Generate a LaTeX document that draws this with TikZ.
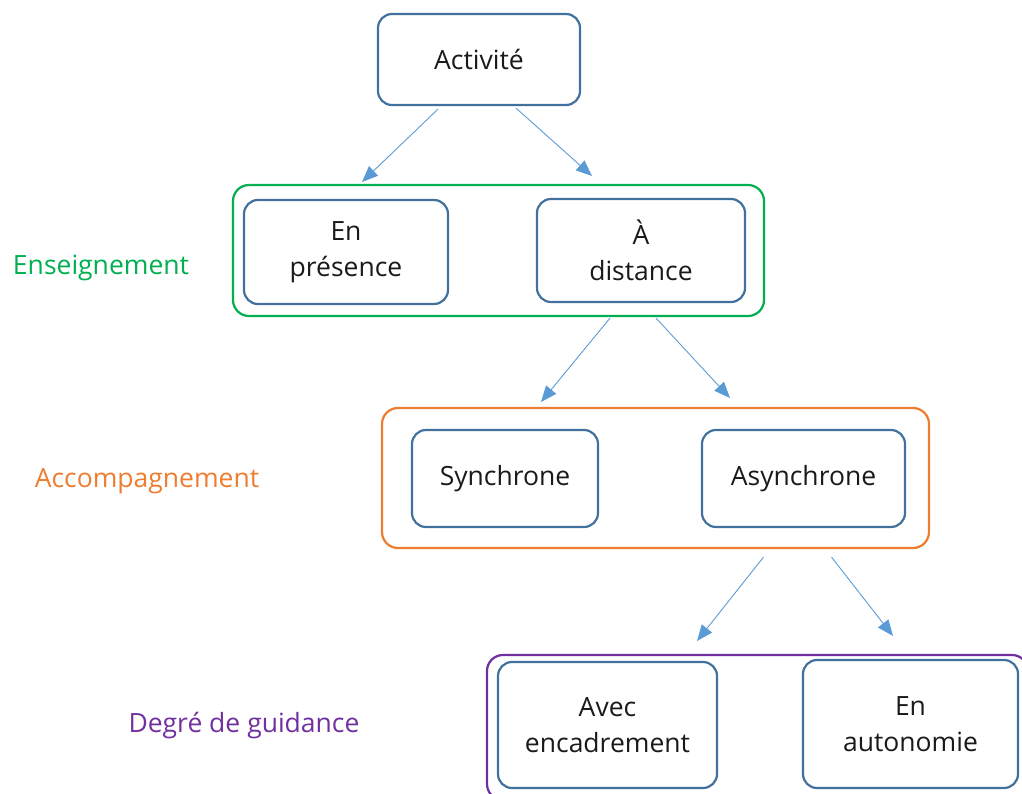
\documentclass[tikz,border=0pt]{standalone}
\usepackage{fontspec}
\setmainfont{Open Sans}
\definecolor{boxblue}{HTML}{41719C}
\definecolor{arrowblue}{HTML}{5B9BD5}
\definecolor{grpgreen}{HTML}{00B050}
\definecolor{grporange}{HTML}{ED7D31}
\definecolor{grppurple}{HTML}{7030A0}
\definecolor{txtgray}{HTML}{1A1A1A}
\usetikzlibrary{arrows.meta}
\begin{document}
\begin{tikzpicture}[x=1pt,y=-1pt,font=\fontsize{26.5}{36}\selectfont]
\tikzstyle{item}=[draw=boxblue,text=txtgray,line width=2.2pt,rounded corners=14pt,align=center,inner sep=0pt]
\tikzstyle{group}=[line width=2.2pt,rounded corners=16pt]
\tikzstyle{arr}=[draw=arrowblue,line width=0.9pt,-{Triangle[length=16pt,width=13pt]}]
\clip (0,0) rectangle (1022,794);
% groups
\draw[group,grpgreen] (233,185) rectangle (764,316);
\draw[group,grporange] (382,408) rectangle (929,548);
\draw[group,grppurple] (487,655) rectangle (1028,800);
% boxes
\node[item,minimum width=202pt,minimum height=91pt] (act) at (479,59.5) {Activité};
\node[item,minimum width=204pt,minimum height=104pt] (pres) at (346,252) {En\\présence};
\node[item,minimum width=208pt,minimum height=103pt] (dist) at (641,250.5) {\raisebox{-3pt}{À}\\\raisebox{-3pt}{distance}};
\node[item,minimum width=186pt,minimum height=97pt] (sync) at (505,478.5) {Synchrone};
\node[item,minimum width=203pt,minimum height=97pt] (async) at (803.5,478.5) {Asynchrone};
\node[item,minimum width=219pt,minimum height=126pt] (encad) at (607.5,725) {Avec\\encadrement};
\node[item,minimum width=215pt,minimum height=128pt] (auto) at (910.5,724) {\raisebox{-5pt}{En}\\\raisebox{-5pt}{autonomie}};
% labels
\node[text=grpgreen] (ens) at (101,268) {Enseignement};
\node[text=grporange] (acc) at (147,481) {Accompagnement};
\node[text=grppurple] (guid) at (244,726) {Degré de guidance};
% arrows
\coordinate (a1) at (362,182); \coordinate (a2) at (592,176);
\coordinate (b1) at (541,402); \coordinate (b2) at (730,398);
\coordinate (c1) at (697,641); \coordinate (c2) at (893,636);
\draw[arr] ([xshift=-41pt,yshift=-3pt]act.south) -- (a1);
\draw[arr] ([xshift=37pt,yshift=-2pt]act.south) -- (a2);
\draw[arr] ([xshift=-31pt,yshift=-15pt]dist.south) -- (b1);
\draw[arr] ([xshift=15pt,yshift=-15pt]dist.south) -- (b2);
\draw[arr] ([xshift=-40pt,yshift=-29pt]async.south) -- (c1);
\draw[arr] ([xshift=28pt,yshift=-29pt]async.south) -- (c2);
\end{tikzpicture}
\end{document}
